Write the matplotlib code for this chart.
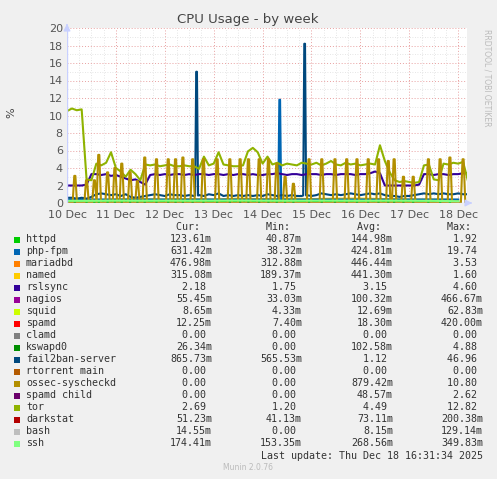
import matplotlib
matplotlib.use("Agg")
import matplotlib.pyplot as plt
import numpy as np

# ---- data (time in days since 10 Dec 00:00) ----
t_main = [i / 10 for i in range(83)]
tor = [10.5, 10.8, 10.6, 10.7, 2.7, 2.6, 4.5, 4.3, 4.6, 5.8,
       4.0, 3.6, 3.0, 3.8, 3.3, 2.6, 4.4, 4.3, 4.4, 4.2,
       4.3, 4.4, 4.2, 4.2, 4.3, 4.2, 4.2, 3.9, 5.3, 4.3,
       4.5, 5.8, 4.4, 4.3, 4.2, 4.2, 4.3, 5.9, 6.3, 5.8,
       4.5, 5.3, 4.4, 4.6, 4.3, 4.5, 4.4, 4.3, 4.6, 4.5,
       4.4, 4.6, 4.3, 4.5, 4.8, 4.4, 4.3, 4.6, 4.4, 4.5,
       4.3, 4.4, 4.5, 4.4, 6.6, 4.8, 3.5, 2.6, 2.4, 2.5,
       2.4, 2.3, 2.4, 4.3, 4.4, 2.7, 2.6, 4.5, 4.4, 4.6,
       4.5, 4.7, 2.5]
rslsync = [2.0, 2.0, 2.0, 2.0, 2.1, 3.3, 3.3, 3.2, 3.3, 3.1,
           3.2, 3.0, 2.8, 2.6, 2.7, 2.4, 2.1, 3.2, 3.3, 3.2,
           3.3, 3.2, 3.3, 3.3, 3.2, 3.3, 3.2, 3.3, 3.3, 3.2,
           3.3, 3.3, 3.2, 3.3, 3.2, 3.3, 3.3, 3.2, 3.3, 3.2,
           3.2, 3.3, 3.3, 3.4, 3.3, 3.2, 3.3, 3.3, 3.2, 3.3,
           3.3, 3.3, 3.2, 3.3, 3.3, 3.2, 3.3, 3.3, 3.3, 3.2,
           3.3, 3.3, 3.4, 3.6, 3.4, 2.0, 2.0, 2.0, 2.0, 2.0,
           2.0, 2.0, 2.1, 3.3, 3.3, 3.2, 3.3, 3.3, 3.2, 3.3,
           3.3, 3.4, 3.4]
fail2ban = [0.6, 0.6, 0.5, 0.6, 0.5, 0.7, 1.0, 1.1, 1.0, 0.9,
            1.0, 0.8, 1.0, 0.7, 0.6, 0.7, 0.8, 0.9, 1.0, 0.9,
            0.8, 1.0, 0.9, 0.9, 0.8, 0.9, 0.8, 0.9, 0.8, 1.0,
            0.9, 1.1, 0.8, 0.9, 0.8, 0.9, 0.8, 0.9, 0.8, 0.9,
            0.8, 1.0, 0.9, 0.8, 0.9, 0.8, 0.9, 0.8, 0.8, 0.9,
            0.8, 0.9, 1.1, 1.0, 0.9, 1.0, 0.9, 1.0, 1.1, 1.0,
            0.9, 1.0, 1.1, 1.0, 1.1, 0.9, 0.8, 0.8, 0.7, 0.8,
            0.8, 0.9, 1.0, 1.1, 1.0, 1.1, 1.0, 1.1, 1.0, 1.0,
            1.1, 1.0, 1.0]
f2b_spike_t = [2.65, 4.86]
f2b_spike_v = [15.0, 18.2]
php_spike_t = [4.35]
php_spike_v = [11.8]
ossec_t = [0.16, 0.40, 0.56, 0.65, 0.83, 0.98, 1.12, 1.29, 1.44, 1.59,
           1.83, 2.07, 2.22, 2.37, 2.57, 2.79, 3.07, 3.33, 3.54, 3.71,
           3.93, 4.12, 4.29, 4.46, 4.63, 4.95, 5.21, 5.48, 5.72, 5.93,
           6.16, 6.37, 6.57, 6.69, 6.88, 7.08, 7.39, 7.63, 7.83, 8.10]
ossec_v = [3.1, 2.6, 2.6, 5.5, 3.5, 4.0, 4.5, 3.5, 2.5, 5.2,
           5.0, 5.0, 5.0, 5.2, 5.0, 5.0, 5.0, 5.0, 5.0, 5.0,
           5.0, 5.0, 4.5, 3.0, 2.2, 5.0, 5.0, 5.0, 5.0, 5.0,
           5.0, 5.0, 4.8, 5.0, 3.0, 3.0, 5.0, 5.0, 5.2, 5.0]
t_coarse = [i / 2 for i in range(17)]
named = [0.35, 0.3, 0.4, 0.45, 0.4, 0.45, 0.4, 0.5, 0.45, 0.5, 0.45, 0.5, 0.5, 0.45, 0.4, 0.4, 0.35]
ssh = [0.25, 0.25, 0.27, 0.26, 0.27, 0.26, 0.27, 0.28, 0.27, 0.26, 0.27, 0.27, 0.26, 0.27, 0.26, 0.25, 0.2]
httpd = [0.15, 0.12, 0.14, 0.15, 0.14, 0.15, 0.14, 0.16, 0.15, 0.14, 0.15, 0.15, 0.14, 0.15, 0.14, 0.13, 0.12]
darkstat = [0.07, 0.07, 0.08, 0.07, 0.07, 0.08, 0.07, 0.07, 0.08, 0.07, 0.07, 0.08, 0.07, 0.07, 0.07, 0.07, 0.05]
day_labels = ["10 Dec", "11 Dec", "12 Dec", "13 Dec", "14 Dec", "15 Dec", "16 Dec", "17 Dec", "18 Dec"]

legend_names = ["httpd", "php-fpm", "mariadbd", "named", "rslsync", "nagios", "squid", "spamd",
                "clamd", "kswapd0", "fail2ban-server", "rtorrent main", "ossec-syscheckd",
                "spamd child", "tor", "darkstat", "bash", "ssh"]
legend_colors = ["#00CC00", "#0066B3", "#FF8000", "#FFCC00", "#330099", "#990099", "#CCFF00", "#FF0000",
                 "#808080", "#008F00", "#00487D", "#B35A00", "#B38F00", "#6B006B", "#8FB300",
                 "#B30000", "#BEBEBE", "#80FF80"]
cur = ["123.61m", "631.42m", "476.98m", "315.08m", "2.18", "55.45m", "8.65m", "12.25m", "0.00",
       "26.34m", "865.73m", "0.00", "0.00", "0.00", "2.69", "51.23m", "14.55m", "174.41m"]
mins = ["40.87m", "38.32m", "312.88m", "189.37m", "1.75", "33.03m", "4.33m", "7.40m", "0.00",
        "0.00", "565.53m", "0.00", "0.00", "0.00", "1.20", "41.13m", "0.00", "153.35m"]
avgs = ["144.98m", "424.81m", "446.44m", "441.30m", "3.15", "100.32m", "12.69m", "18.30m", "0.00",
        "102.58m", "1.12", "0.00", "879.42m", "48.57m", "4.49", "73.11m", "8.15m", "268.56m"]
maxs = ["1.92", "19.74", "3.53", "1.60", "4.60", "466.67m", "62.83m", "420.00m", "0.00",
        "4.88", "46.96", "0.00", "10.80", "2.62", "12.82", "200.38m", "129.14m", "349.83m"]

# ---- figure ----
W, H = 497, 479
fig = plt.figure(figsize=(W / 100, H / 100), dpi=100, facecolor="#F0F0F0")
ax = fig.add_axes([67 / W, 1 - 203 / H, 400 / W, 175 / H])
ax.set_facecolor("white")

def spikes(ts, vs, base_t, base_v, w=0.025):
    bt = np.array(base_t, float); bv = np.array(base_v, float)
    xs, ys = list(bt), list(bv)
    for t, v in zip(ts, vs):
        b = float(np.interp(t, bt, bv))
        xs += [t - w, t - w / 4, t + w / 4, t + w]; ys += [b, v, v, b]
    o = np.argsort(xs, kind="stable")
    return np.array(xs)[o], np.array(ys)[o]

lw = 1.5
ax.plot(t_coarse, darkstat, color="#B30000", lw=lw)
ax.plot(t_coarse, httpd, color="#00CC00", lw=lw)
ax.plot(t_coarse, named, color="#FFCC00", lw=lw)
x, y = spikes(php_spike_t, php_spike_v, t_coarse, [0.4] * len(t_coarse), w=0.03)
ax.plot(x, y, color="#0066B3", lw=lw)
x, y = spikes(f2b_spike_t, f2b_spike_v, t_main, fail2ban, w=0.03)
ax.plot(x, y, color="#00487D", lw=lw)
ax.plot(t_main, rslsync, color="#330099", lw=lw)
ax.plot(t_main, tor, color="#8FB300", lw=lw)
x, y = spikes(ossec_t, ossec_v, [0, 8.2], [0, 0], w=0.045)
ax.plot(x, y, color="#B38F00", lw=lw)
ax.plot(t_coarse, ssh, color="#80FF80", lw=lw)

ax.set_xlim(0, 8.18)
ax.set_ylim(0, 20)
ax.set_xticks(range(9))
ax.set_xticklabels(day_labels)
ax.set_yticks(range(0, 21, 2))
ax.set_xticks(np.arange(0, 8.2, 0.25), minor=True)
ax.set_yticks(range(0, 21, 1), minor=True)
ax.grid(which="minor", color="#DDDDDD", ls=(0, (1, 2)), lw=0.6)
ax.grid(which="major", color="#E8A0A0", ls=(0, (1, 2)), lw=0.7)
ax.tick_params(which="both", length=0, labelsize=8, colors="#555555", pad=3)
ax.tick_params(axis="x", pad=5)
for s in ax.spines.values():
    s.set_visible(False)
ax.axhline(0, color="#C8D0FF", lw=1)
ax.axvline(0, color="#C8D0FF", lw=1)
ax.annotate("", xy=(475 / W, 1 - 203 / H), xytext=(467 / W, 1 - 203 / H), xycoords="figure fraction",
            arrowprops=dict(arrowstyle="-|>", color="#C8D0FF", lw=1))
ax.annotate("", xy=(67 / W, 1 - 21 / H), xytext=(67 / W, 1 - 28 / H), xycoords="figure fraction",
            arrowprops=dict(arrowstyle="-|>", color="#C8D0FF", lw=1))

fig.text(248 / W, 1 - 20 / H, "CPU Usage - by week", ha="center", va="center", fontsize=9.5, color="#444444")
fig.text(11 / W, 1 - 113 / H, "%", ha="center", va="center", rotation=90, fontsize=8, color="#444444")
fig.text(487 / W, 1 - 78 / H, "RRDTOOL / TOBI OETIKER", ha="center", va="center", rotation=270,
         fontsize=5.5, color="#BBBBBB")

mono = dict(family="DejaVu Sans Mono", fontsize=7.2, color="#333333", va="center")
cols = [212, 302, 393, 483]
y0 = 227.5
for xr, hdr in zip(cols, ["Cur:", "Min:", "Avg:", "Max:"]):
    fig.text(xr / W, 1 - y0 / H, hdr + "  ", ha="right", **mono)
for i, name in enumerate(legend_names):
    yy = 1 - (239.5 + 12 * i) / H
    fig.patches.append(plt.Rectangle((14 / W, yy - 3 / H), 6 / W, 6 / H, transform=fig.transFigure,
                                     facecolor=legend_colors[i], edgecolor="none"))
    fig.text(26 / W, yy, name, ha="left", **mono)
    for xr, vals in zip(cols, [cur, mins, avgs, maxs]):
        v = vals[i]
        fig.text(xr / W, yy, v if v.endswith("m") else v + " ", ha="right", **mono)
fig.text(483 / W, 1 - 455.7 / H, "Last update: Thu Dec 18 16:31:34 2025", ha="right", **mono)
fig.text(248 / W, 1 - 468 / H, "Munin 2.0.76", ha="center", va="center", fontsize=5.5, color="#BBBBBB")

fig.savefig("out.png", dpi=100, facecolor=fig.get_facecolor())
